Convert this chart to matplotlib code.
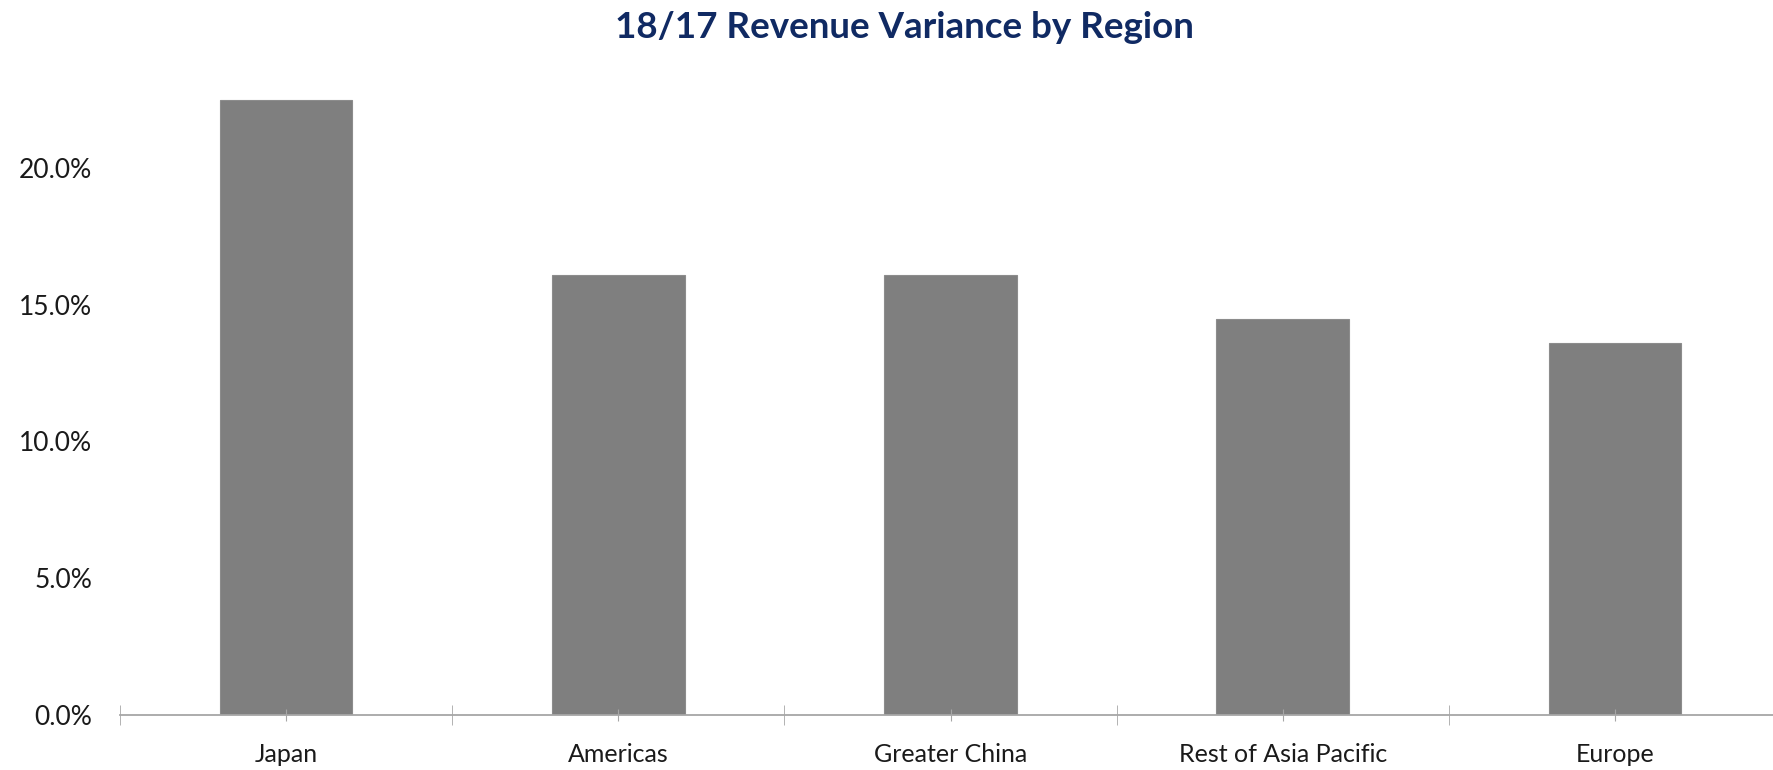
import numpy as np
import matplotlib.pyplot as plt
from matplotlib.ticker import PercentFormatter

regions = ['Japan', 'Americas', 'Greater China', 'Rest of Asia Pacific', 'Europe']
variance = [22.5, 16.1, 16.1, 14.5, 13.6]  # percent
yticks = [0, 5, 10, 15, 20]

plt.rcParams['font.family'] = ['Lato', 'DejaVu Sans']

fig = plt.figure(figsize=(17.73, 7.70), dpi=100)
ax = fig.add_axes([0.0676, 0.072, 0.937, 0.8866])

x = np.arange(len(regions))
ax.bar(x, variance, width=0.4, color='#7f7f7f', edgecolor='#8c8c8c', linewidth=0.8)

ax.set_xlim(-0.5, len(regions) - 0.5)
ax.set_ylim(0, 25)
ax.set_yticks(yticks)
ax.yaxis.set_major_formatter(PercentFormatter(decimals=1))
ax.tick_params(axis='y', length=0, pad=20, labelsize=19, labelcolor='#1a1a1a')

ax.set_xticks(x)
ax.set_xticklabels(regions)
ax.set_xticks(np.arange(-0.5, len(regions)), minor=True)
ax.tick_params(axis='x', which='major', direction='inout', length=9, color='#a6a6a6',
               pad=16, labelsize=18, labelcolor='#1a1a1a')
ax.tick_params(axis='x', which='minor', direction='inout', length=14, color='#a6a6a6')

for s in ['top', 'right', 'left']:
    ax.spines[s].set_visible(False)
ax.spines['bottom'].set_color('#a6a6a6')
ax.spines['bottom'].set_linewidth(1.3)

fig.text(0.51, 0.964, '18/17 Revenue Variance by Region', ha='center', va='center',
         fontsize=26.5, fontweight='bold', color='#102a63')

fig.savefig('out.png', dpi=100)
